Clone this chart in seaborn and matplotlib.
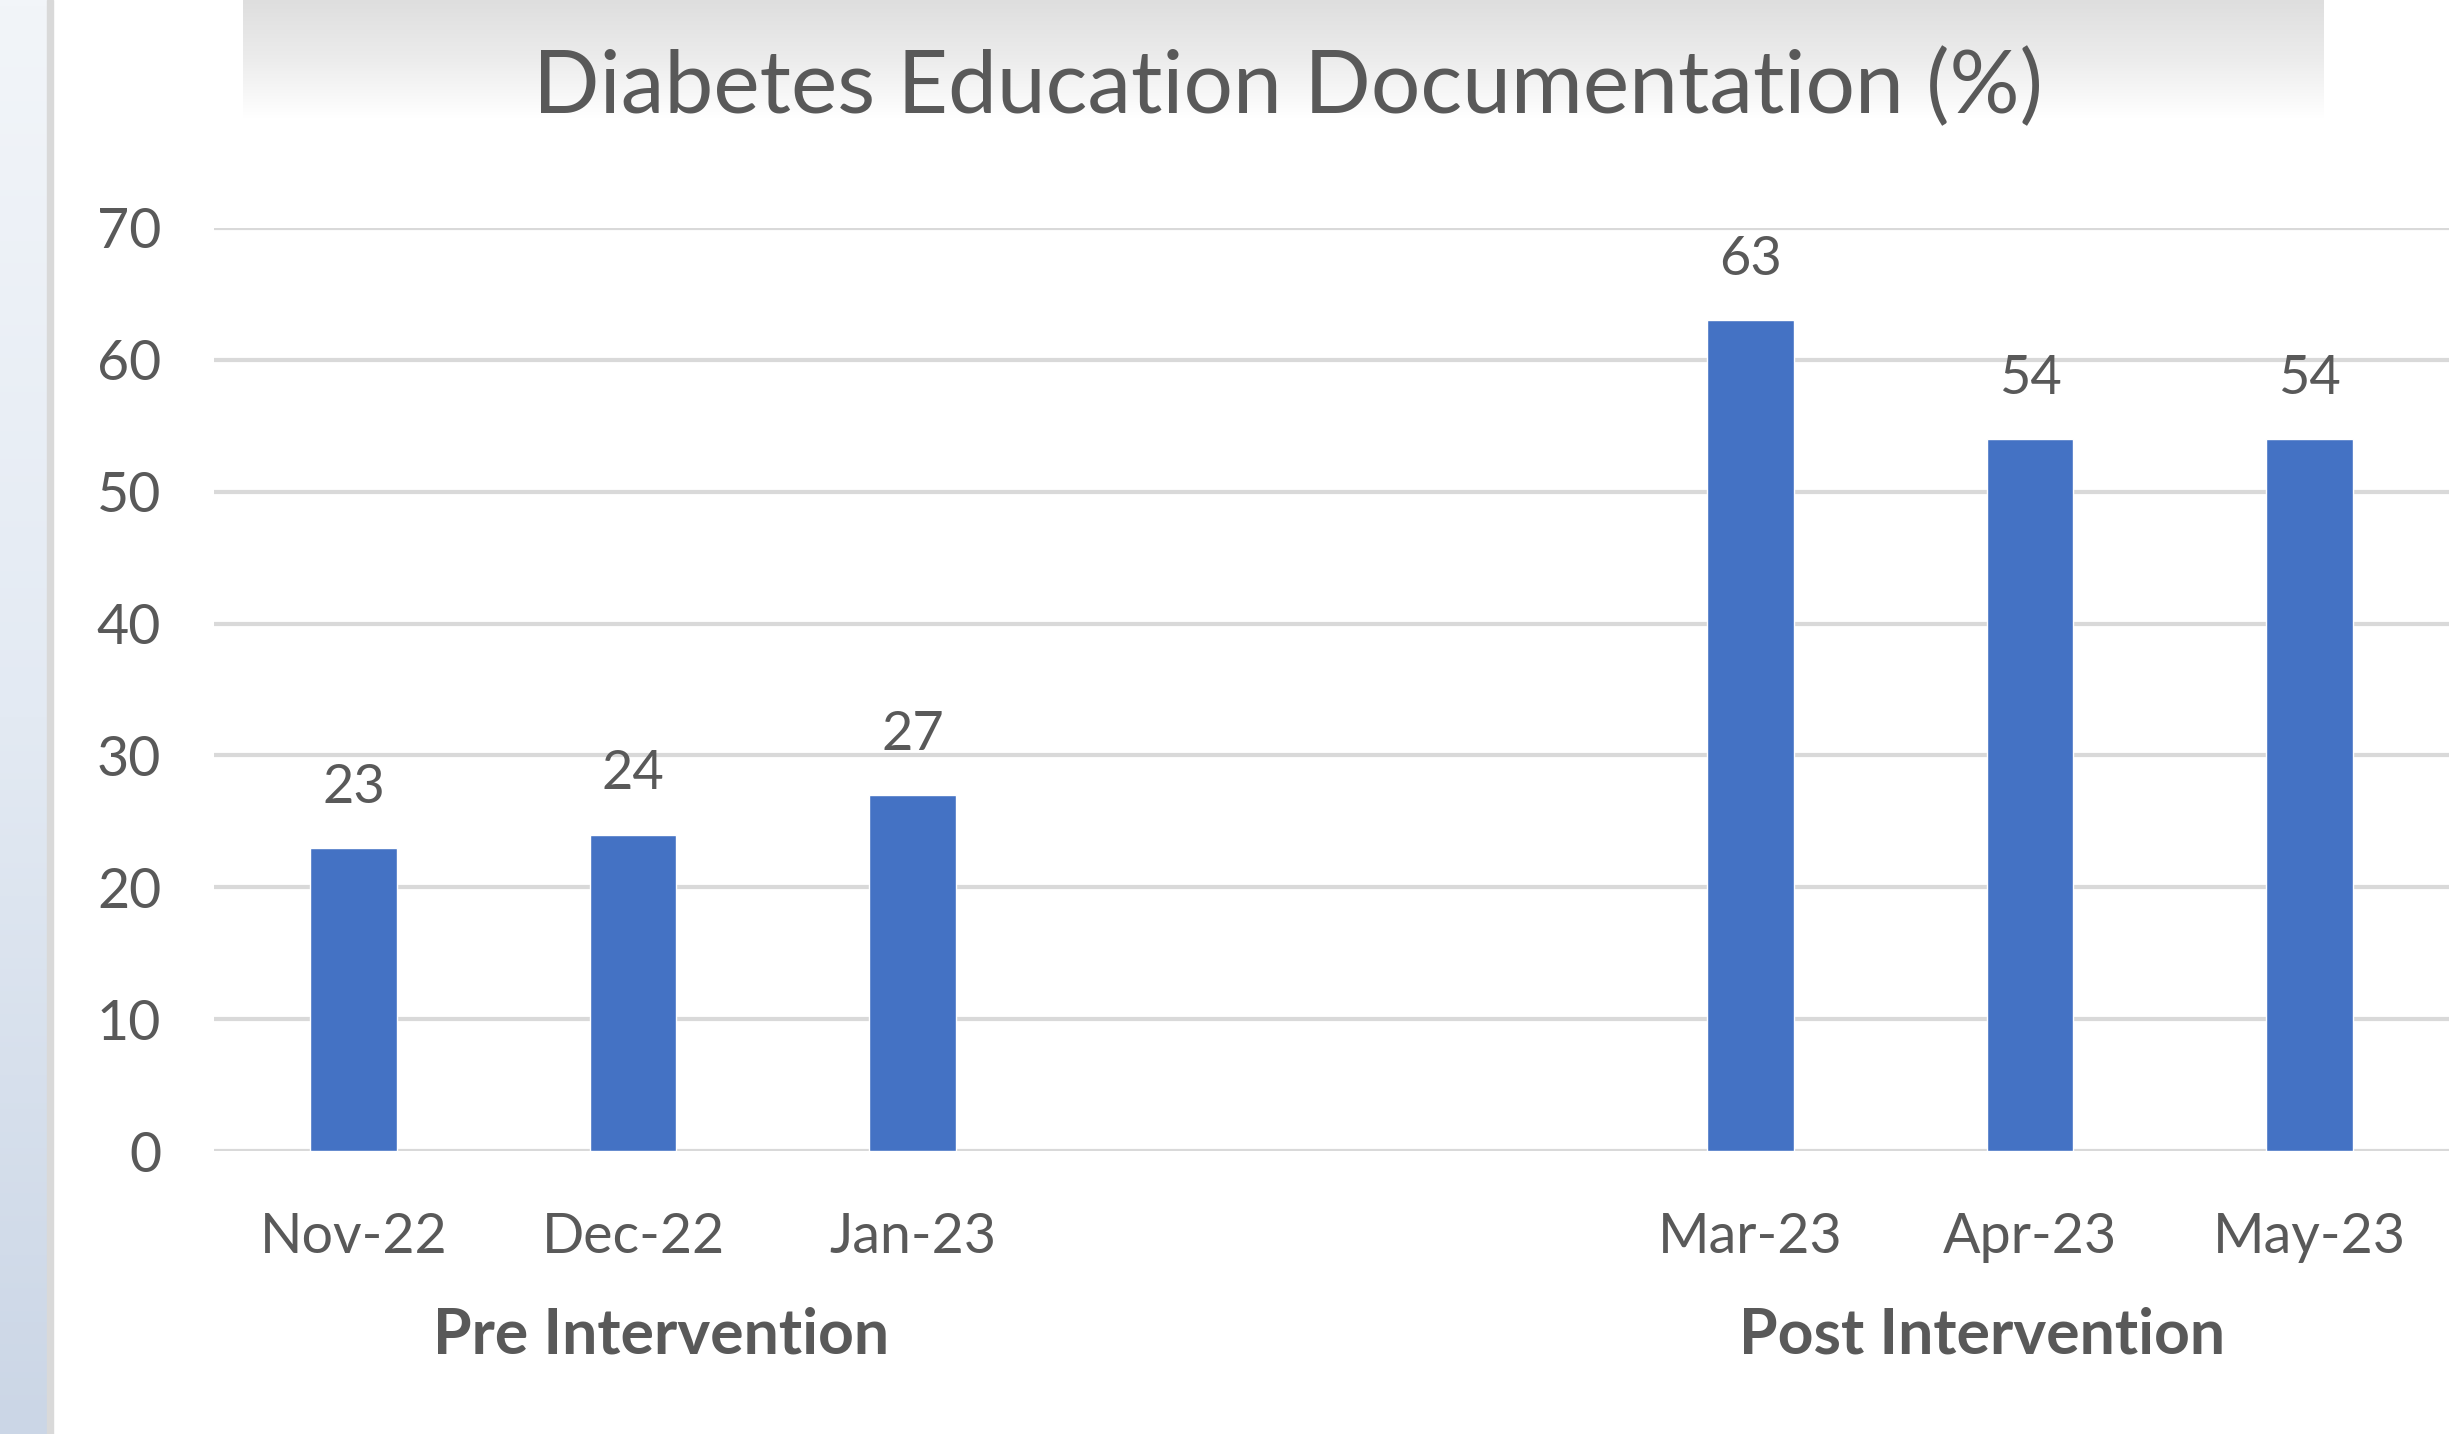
import numpy as np
import pandas as pd
import matplotlib
matplotlib.use('Agg')
import matplotlib.pyplot as plt
import seaborn as sns

# dades del gràfic
months = ['Nov-22', 'Dec-22', 'Jan-23', 'Mar-23', 'Apr-23', 'May-23']
values = [23, 24, 27, 63, 54, 54]
slot_order = ['Nov-22', 'Dec-22', 'Jan-23', ' ', '  ', 'Mar-23', 'Apr-23', 'May-23']
groups = ['Pre Intervention', 'Post Intervention']
group_pos = [1.1, 5.83]
yticks = [0, 10, 20, 30, 40, 50, 60, 70]

df = pd.DataFrame({'month': months, 'value': values})

sns.set_style('white')
plt.rcParams['font.family'] = ['Lato', 'DejaVu Sans']

text_color = '#595959'
bar_color = '#4472C4'
grid_color = '#D9D9D9'

fig = plt.figure(figsize=(24.62, 14.34), dpi=100)
W, H = 2462, 1434

# fons: franja esquerra i degradat del títol
bg = fig.add_axes([0, 0, 1, 1], zorder=-5)
bg.set_xlim(0, W)
bg.set_ylim(H, 0)
bg.axis('off')
strip = np.linspace(0, 1, 256).reshape(-1, 1)
bg.imshow(strip, cmap=matplotlib.colors.LinearSegmentedColormap.from_list('s', ['#f2f5f9', '#e3eaf3', '#cbd6e6']),
          extent=[0, 47, H, 0], aspect='auto')
bg.add_patch(plt.Rectangle((47, 0), 6, H, color='#d9d9d9'))
grad = np.linspace(0, 1, 256).reshape(-1, 1)
bg.imshow(grad, cmap=matplotlib.colors.LinearSegmentedColormap.from_list('t', ['#dedede', '#ececec', '#ffffff']),
          extent=[243, 2324, 118, 0], aspect='auto')

ax = fig.add_axes([214 / W, 1 - 1151 / H, (2449 - 214) / W, (1151 - 228) / H])
ax.set_facecolor('none')
sns.barplot(data=df, x='month', y='value', order=slot_order, color=bar_color,
            width=0.31, saturation=1, ax=ax, zorder=3)

ax.set_ylim(0, 70)
ax.set_yticks(yticks)
ax.yaxis.grid(True, color=grid_color, linewidth=3, zorder=0)
ax.set_axisbelow(True)
sns.despine(ax=ax, left=True, bottom=True, top=True, right=True)
ax.tick_params(axis='both', length=0, labelsize=40, labelcolor=text_color)
ax.tick_params(axis='y', pad=38)
ax.tick_params(axis='x', pad=44)
ax.set_xlabel('')
ax.set_ylabel('')

# etiquetes de valor
for p in ax.patches:
    h = p.get_height()
    if np.isnan(h) or h == 0:
        continue
    ax.annotate(f'{int(h)}', (p.get_x() + p.get_width() / 2, h), xytext=(0, 26),
                textcoords='offset points', ha='center', va='bottom', fontsize=39, color=text_color)

# etiquetes de grup
for g, x in zip(groups, group_pos):
    ax.text(x, -0.2, g, transform=ax.get_xaxis_transform(), ha='center', va='center',
            fontsize=45, fontweight='bold', color=text_color)

fig.text(1288 / W, 1 - 88 / H, 'Diabetes Education Documentation (%)', ha='center', va='center',
         fontsize=63, color=text_color)

fig.savefig('out.png', dpi=100)
